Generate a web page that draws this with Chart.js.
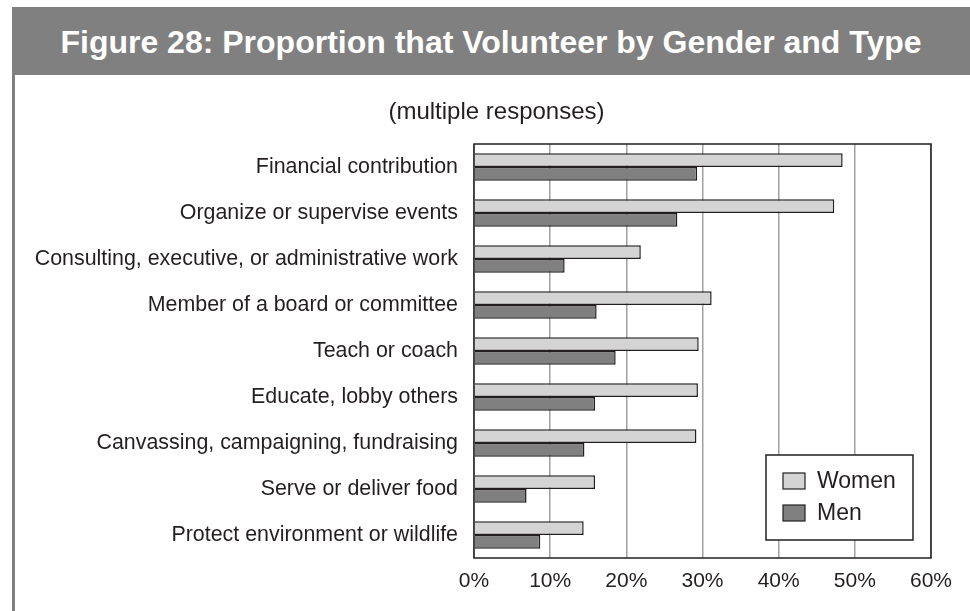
<!DOCTYPE html>
<html>
<head>
<meta charset="utf-8">
<title>Figure 28</title>
<script src="https://cdn.jsdelivr.net/npm/chart.js@4.4.1/dist/chart.umd.min.js"></script>
<style>
  body { margin: 0; background: #fff; font-family: "Liberation Sans", Arial, sans-serif; }
  #page { position: relative; width: 970px; height: 611px; overflow: hidden; }
  #titlebar {
    position: absolute; left: 12px; top: 7px; width: 958px; height: 68px;
    background: #808080; color: #fff; font-weight: bold; font-size: 32px;
    line-height: 70px; text-align: center; white-space: nowrap;
  }
  #frame { position: absolute; left: 12px; top: 75px; width: 3px; height: 536px; background: #808080; }
  #subtitle {
    position: absolute; left: 0; top: 97px; width: 993px; text-align: center;
    font-size: 24px; line-height: 28px; color: #231f20;
  }
  #chartbox { position: absolute; left: 0; top: 0; width: 970px; height: 611px; }
</style>
</head>
<body>
<div id="page">
  <div id="chartbox"><canvas id="canvas"></canvas></div>
  <div id="titlebar">Figure 28: Proportion that Volunteer by Gender and Type</div>
  <div id="frame"></div>
  <div id="subtitle">(multiple responses)</div>
</div>

<script>
var categories = [
  "Financial contribution",
  "Organize or supervise events",
  "Consulting, executive, or administrative work",
  "Member of a board or committee",
  "Teach or coach",
  "Educate, lobby others",
  "Canvassing, campaigning, fundraising",
  "Serve or deliver food",
  "Protect environment or wildlife"
];
var women = [48.4, 47.3, 21.9, 31.2, 29.5, 29.4, 29.2, 15.9, 14.4];
var men = [29.3, 26.7, 11.9, 16.1, 18.6, 15.9, 14.5, 6.9, 8.7];
var xTicks = [0, 10, 20, 30, 40, 50, 60];

var textColor = "#231f20";
var fontFamily = "'Liberation Sans', Arial, sans-serif";

// frame round the plot area
var plotBorder = {
  id: "plotBorder",
  afterDatasetsDraw: function (chart) {
    var a = chart.chartArea, ctx = chart.ctx;
    ctx.save();
    ctx.strokeStyle = "#231f20";
    ctx.lineWidth = 1.5;
    ctx.strokeRect(a.left, a.top, a.right - a.left, a.bottom - a.top);
    ctx.restore();
  }
};

// boxed legend inside the plot, bottom right
var boxLegend = {
  id: "boxLegend",
  afterDraw: function (chart) {
    var a = chart.chartArea, ctx = chart.ctx;
    var w = 147, h = 85;
    var x = a.right - 18 - w, y = a.bottom - 18 - h;
    ctx.save();
    ctx.fillStyle = "#fff";
    ctx.fillRect(x, y, w, h);
    ctx.strokeStyle = "#231f20";
    ctx.lineWidth = 1.5;
    ctx.strokeRect(x, y, w, h);
    ctx.font = "23px " + fontFamily;
    ctx.textBaseline = "middle";
    chart.data.datasets.forEach(function (ds, i) {
      var sy = y + 18 + i * 32;
      ctx.fillStyle = ds.backgroundColor;
      ctx.fillRect(x + 17, sy, 22, 16);
      ctx.strokeStyle = "#231f20";
      ctx.lineWidth = 1.2;
      ctx.strokeRect(x + 17, sy, 22, 16);
      ctx.fillStyle = textColor;
      ctx.fillText(ds.label, x + 51, sy + 9);
    });
    ctx.restore();
  }
};

new Chart(document.getElementById("canvas"), {
  type: "bar",
  data: {
    labels: categories,
    datasets: [
      { label: "Women", data: women, backgroundColor: "#d4d4d4", borderColor: "#231f20", borderWidth: 1.5 },
      { label: "Men", data: men, backgroundColor: "#808080", borderColor: "#231f20", borderWidth: 1.5 }
    ]
  },
  options: {
    indexAxis: "y",
    responsive: true,
    maintainAspectRatio: false,
    animation: false,
    categoryPercentage: 0.6,
    barPercentage: 1.0,
    layout: { padding: { left: 0, right: 39, top: 144, bottom: 0 } },
    plugins: { legend: { display: false }, tooltip: { enabled: false } },
    scales: {
      x: {
        min: 0, max: 60,
        afterBuildTicks: function (s) { s.ticks = xTicks.map(function (v) { return { value: v }; }); },
        afterFit: function (s) { s.height = 53; },
        grid: { color: "#a0a0a0", lineWidth: 1.5, drawTicks: false, tickLength: 0 },
        border: { display: false },
        ticks: {
          padding: 11, color: textColor,
          font: { family: fontFamily, size: 21 },
          callback: function (v) { return v + "%"; }
        }
      },
      y: {
        afterFit: function (s) { s.width = 474; },
        grid: { display: false, drawTicks: false, tickLength: 0 },
        border: { display: false },
        ticks: {
          padding: 16, color: textColor,
          font: { family: fontFamily, size: 21.4 }
        }
      }
    }
  },
  plugins: [plotBorder, boxLegend]
});
</script>
</body>
</html>
